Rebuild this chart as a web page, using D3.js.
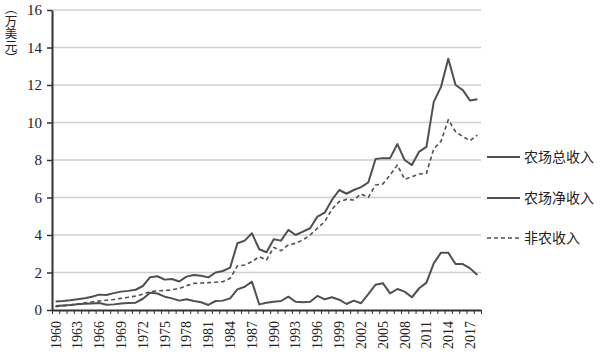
<!DOCTYPE html>
<html><head><meta charset="utf-8">
<script src="https://cdn.jsdelivr.net/npm/d3@7"></script>
<style>
html,body{margin:0;padding:0;background:#fff;}
svg{display:block;}
</style></head>
<body><svg id="c" width="600" height="356"></svg>
<script>
const years = d3.range(1960, 2019);
const tickLabels = [1960,1963,1966,1969,1972,1975,1978,1981,1984,1987,1990,1993,1996,1999,2002,2005,2008,2011,2014,2017];
const yTicks = [0,2,4,6,8,10,12,14,16];
const seriesNames = ["农场总收入","农场净收入","非农收入"];
const yTitle = "（万美元）";
const totalIncome = [0.45,0.48,0.52,0.57,0.63,0.71,0.82,0.80,0.90,0.98,1.02,1.08,1.28,1.75,1.80,1.62,1.65,1.52,1.78,1.87,1.83,1.74,2.00,2.08,2.26,3.56,3.70,4.09,3.24,3.08,3.77,3.70,4.27,4.00,4.18,4.36,4.98,5.19,5.87,6.40,6.20,6.40,6.55,6.80,8.05,8.10,8.10,8.85,8.00,7.73,8.45,8.70,11.10,11.90,13.40,12.00,11.73,11.17,11.24];
const netIncome = [0.21,0.24,0.27,0.31,0.33,0.35,0.37,0.28,0.30,0.35,0.37,0.39,0.60,0.92,0.88,0.71,0.62,0.50,0.57,0.48,0.41,0.27,0.48,0.50,0.62,1.10,1.24,1.51,0.30,0.39,0.44,0.48,0.71,0.44,0.41,0.44,0.75,0.57,0.68,0.55,0.32,0.50,0.36,0.85,1.35,1.43,0.89,1.12,0.98,0.68,1.16,1.46,2.49,3.06,3.06,2.45,2.45,2.22,1.87];
const offFarmIncome = [0.18,0.22,0.27,0.32,0.38,0.43,0.48,0.52,0.56,0.62,0.68,0.75,0.84,0.98,1.02,1.04,1.08,1.15,1.30,1.42,1.44,1.46,1.48,1.51,1.69,2.35,2.40,2.58,2.84,2.67,3.34,3.16,3.47,3.56,3.73,4.00,4.36,4.71,5.37,5.78,5.90,5.87,6.19,6.01,6.67,6.72,7.20,7.73,6.97,7.11,7.25,7.29,8.60,9.00,10.15,9.51,9.25,9.03,9.33];

const svg = d3.select("#c");
const L = 52, R = 481, T = 10, B = 310;
const x = d3.scaleBand().domain(years).range([L, R]).padding(0);
const xEdge = d3.scaleLinear().domain([1959.5, 2018.5]).range([L, R]);
const y = d3.scaleLinear().domain([0, 16]).range([B, T]);
const serif = "'Liberation Serif','DejaVu Serif',serif";
const cjk = "'Noto Sans CJK SC','Noto Sans CJK JP',sans-serif";

// gridlines
svg.append("g").selectAll("line").data(yTicks.filter(d => d > 0)).join("line")
  .attr("x1", L).attr("x2", R).attr("y1", d => y(d)).attr("y2", d => y(d))
  .attr("stroke", "#cfcfcf").attr("stroke-width", 1.5);

// y axis
const ya = svg.append("g").attr("transform", `translate(${L},0)`)
  .call(d3.axisLeft(y).tickValues(yTicks).tickSize(5).tickPadding(5).tickSizeOuter(0));
ya.select(".domain").attr("stroke", "#333").attr("stroke-width", 2);
ya.selectAll(".tick line").attr("stroke", "#333").attr("stroke-width", 1.5);
ya.selectAll(".tick text").attr("font-family", serif).attr("font-size", 15).attr("fill", "#222");

// x axis tick marks at category boundaries
const edges = years.map(d => d - 0.5).concat([2018.5]);
const xa = svg.append("g").attr("transform", `translate(0,${B})`)
  .call(d3.axisBottom(xEdge).tickValues(edges).tickSize(4).tickFormat("").tickSizeOuter(0));
xa.select(".domain").attr("stroke", "#333").attr("stroke-width", 2);
xa.selectAll(".tick line").attr("stroke", "#333").attr("stroke-width", 1);

// x labels
const xl = svg.append("g").attr("transform", `translate(0,${B})`)
  .call(d3.axisBottom(x).tickValues(tickLabels).tickSize(0).tickPadding(0));
xl.select(".domain").remove();
xl.selectAll(".tick text")
  .attr("font-family", serif).attr("font-size", 14).attr("fill", "#222")
  .attr("transform", "rotate(-90)")
  .attr("text-anchor", "end").attr("dy", "0.35em").attr("x", -11).attr("y", 0);

// lines
const line = d3.line().x((d, i) => x(years[i]) + x.bandwidth() / 2).y(d => y(d));
const series = [
  {name: seriesNames[0], values: totalIncome, dash: null, w: 2},
  {name: seriesNames[1], values: netIncome, dash: null, w: 2},
  {name: seriesNames[2], values: offFarmIncome, dash: "4,3", w: 1.6}
];
svg.append("g").selectAll("path").data(series).join("path")
  .attr("d", d => line(d.values)).attr("fill", "none")
  .attr("stroke", "#505050").attr("stroke-width", d => d.w)
  .attr("stroke-dasharray", d => d.dash).attr("stroke-linejoin", "round");

// legend
const legY = [157, 198, 238];
const lg = svg.append("g").selectAll("g").data(series).join("g")
  .attr("transform", (d, i) => `translate(487,${legY[i]})`);
lg.append("line").attr("x1", 0).attr("x2", 33).attr("y1", 0).attr("y2", 0)
  .attr("stroke", "#505050").attr("stroke-width", d => d.w).attr("stroke-dasharray", d => d.dash);
lg.append("text").attr("x", 37).attr("y", 0).attr("dy", "0.35em")
  .attr("font-family", cjk).attr("font-size", 14).attr("fill", "#222").text(d => d.name);

// y title (vertical writing)
svg.append("text").attr("x", 11).attr("y", 2)
  .style("writing-mode", "vertical-rl").style("glyph-orientation-vertical", "0")
  .attr("font-family", cjk).attr("font-size", 12.5).attr("fill", "#222")
  .text(yTitle);
</script></body></html>
